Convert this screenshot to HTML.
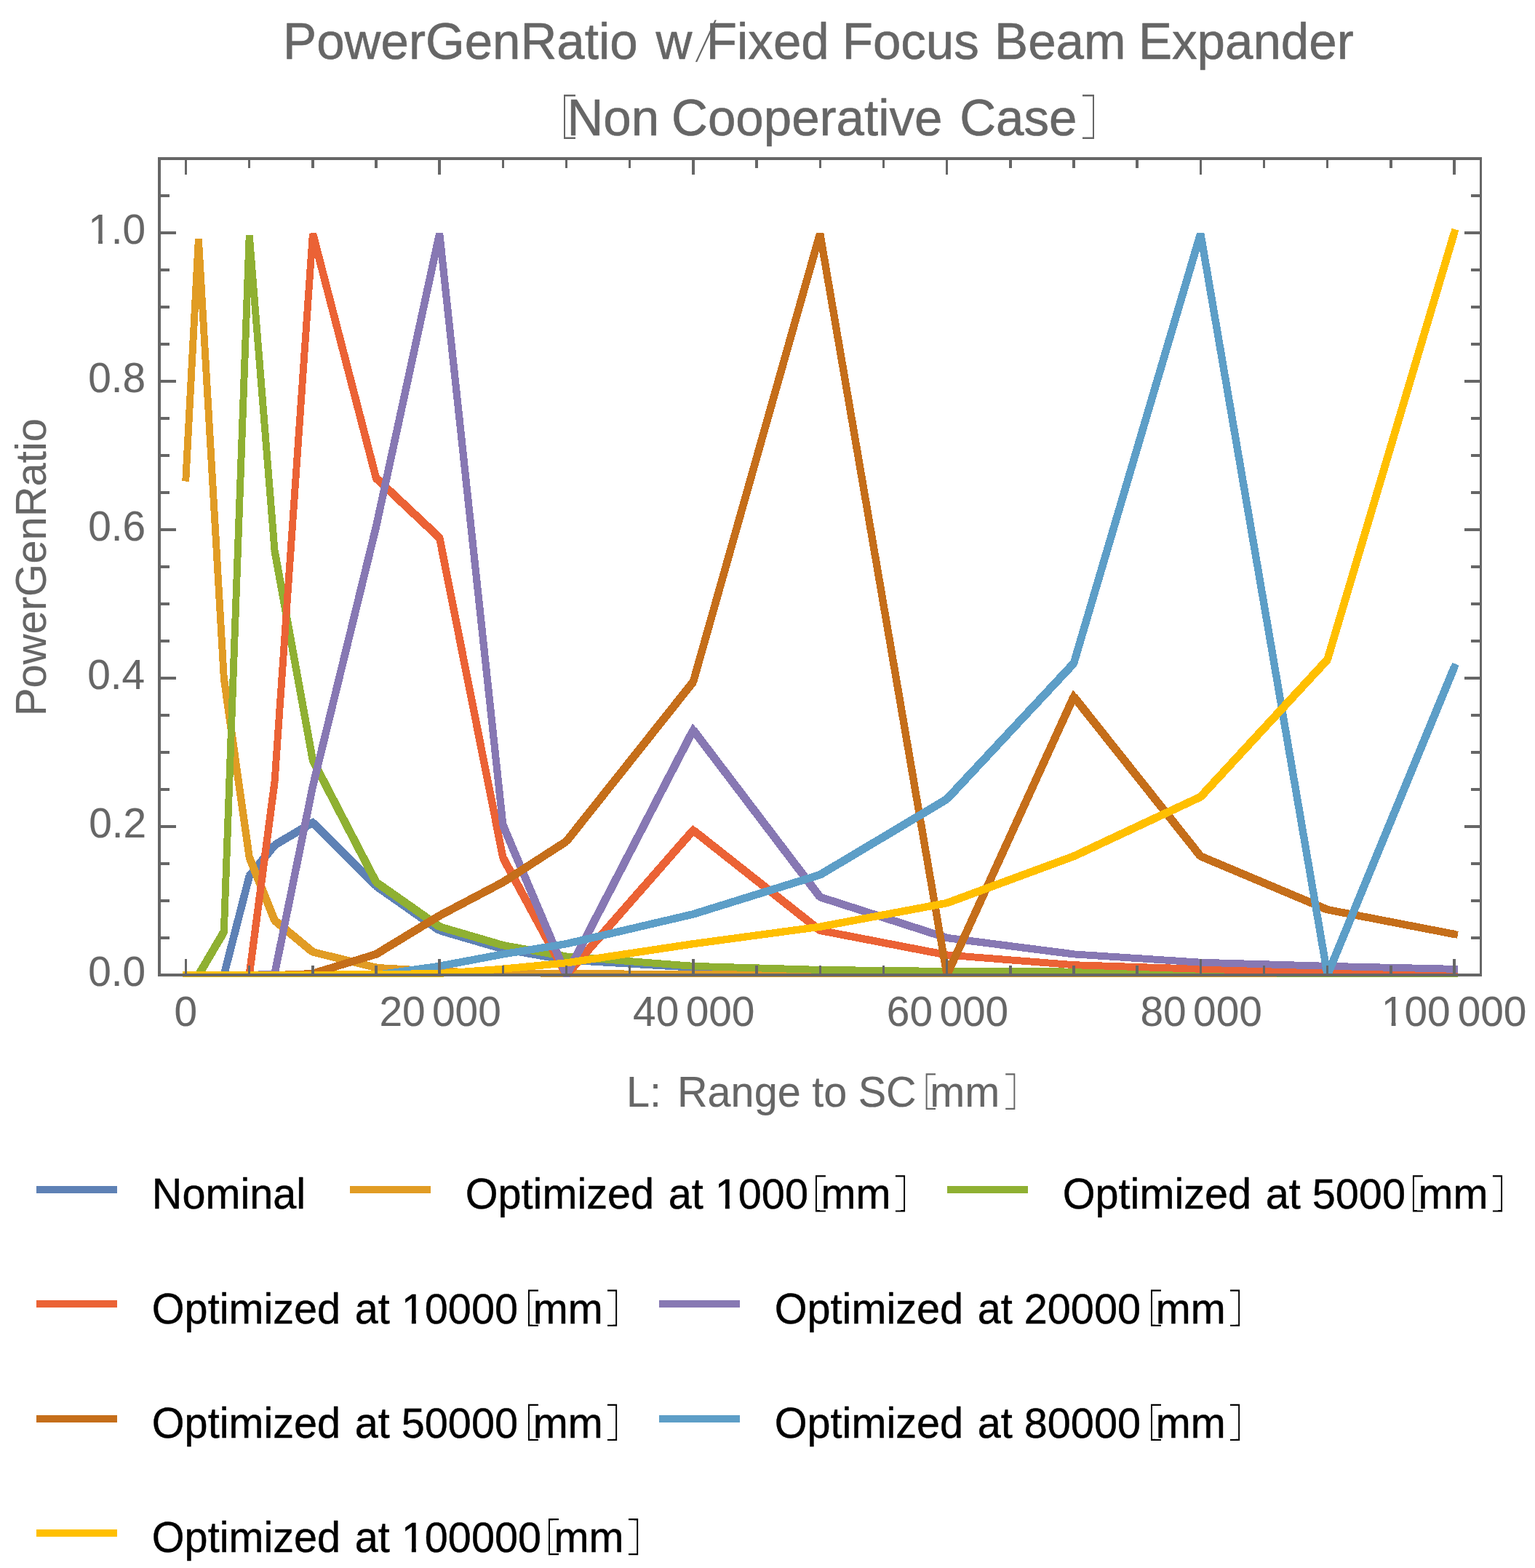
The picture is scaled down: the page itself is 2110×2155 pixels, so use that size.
<!DOCTYPE html>
<html lang="en"><head><meta charset="utf-8"><title>PowerGenRatio w/Fixed Focus Beam Expander</title>
<style>html,body{margin:0;padding:0;background:#fff;overflow:hidden}svg{display:block}text{font-family:"Liberation Sans",Arial,Helvetica,sans-serif;white-space:pre;stroke-linejoin:round}</style></head><body>
<svg width="2110" height="2155" viewBox="0 0 2110 2155" role="img" aria-label="PowerGenRatio w/Fixed Focus Beam Expander [Non Cooperative Case]">
<rect width="2110" height="2155" fill="#fff"/>
<defs><clipPath id="pc"><rect x="216" y="215" width="1822" height="1128"/></clipPath><clipPath id="c1"><rect x="1272.60" y="1475.20" width="2.00" height="49.80"/><rect x="1272.60" y="1475.20" width="13.40" height="2.30"/><rect x="1272.60" y="1522.70" width="13.40" height="2.30"/></clipPath><clipPath id="c2"><rect x="1393.40" y="1475.20" width="2.00" height="49.80"/><rect x="1382.20" y="1475.20" width="13.20" height="2.30"/><rect x="1382.20" y="1522.70" width="13.20" height="2.30"/></clipPath><clipPath id="c3"><polygon points="955.80,85.20 958.20,85.20 984.90,27.40 982.50,27.40"/></clipPath><clipPath id="c4"><rect x="775.00" y="130.00" width="2.00" height="61.00"/><rect x="775.00" y="130.00" width="16.00" height="2.60"/><rect x="775.00" y="188.40" width="16.00" height="2.60"/></clipPath><clipPath id="c5"><rect x="1502.00" y="130.00" width="2.00" height="61.00"/><rect x="1488.00" y="130.00" width="16.00" height="2.60"/><rect x="1488.00" y="188.40" width="16.00" height="2.60"/></clipPath><clipPath id="c6"><rect x="1120.92" y="1615.20" width="2.00" height="50.20"/><rect x="1120.92" y="1615.20" width="14.00" height="2.30"/><rect x="1120.92" y="1663.10" width="14.00" height="2.30"/></clipPath><clipPath id="c7"><rect x="1242.12" y="1615.20" width="2.00" height="50.20"/><rect x="1230.92" y="1615.20" width="13.20" height="2.30"/><rect x="1230.92" y="1663.10" width="13.20" height="2.30"/></clipPath><clipPath id="c8"><rect x="1941.92" y="1615.20" width="2.00" height="50.20"/><rect x="1941.92" y="1615.20" width="14.00" height="2.30"/><rect x="1941.92" y="1663.10" width="14.00" height="2.30"/></clipPath><clipPath id="c9"><rect x="2063.12" y="1615.20" width="2.00" height="50.20"/><rect x="2051.93" y="1615.20" width="13.20" height="2.30"/><rect x="2051.93" y="1663.10" width="13.20" height="2.30"/></clipPath><clipPath id="c10"><rect x="725.96" y="1772.50" width="2.00" height="50.20"/><rect x="725.96" y="1772.50" width="14.00" height="2.30"/><rect x="725.96" y="1820.40" width="14.00" height="2.30"/></clipPath><clipPath id="c11"><rect x="846.16" y="1772.50" width="2.00" height="50.20"/><rect x="834.96" y="1772.50" width="13.20" height="2.30"/><rect x="834.96" y="1820.40" width="13.20" height="2.30"/></clipPath><clipPath id="c12"><rect x="1581.96" y="1772.50" width="2.00" height="50.20"/><rect x="1581.96" y="1772.50" width="14.00" height="2.30"/><rect x="1581.96" y="1820.40" width="14.00" height="2.30"/></clipPath><clipPath id="c13"><rect x="1702.16" y="1772.50" width="2.00" height="50.20"/><rect x="1690.96" y="1772.50" width="13.20" height="2.30"/><rect x="1690.96" y="1820.40" width="13.20" height="2.30"/></clipPath><clipPath id="c14"><rect x="725.96" y="1929.80" width="2.00" height="50.20"/><rect x="725.96" y="1929.80" width="14.00" height="2.30"/><rect x="725.96" y="1977.70" width="14.00" height="2.30"/></clipPath><clipPath id="c15"><rect x="846.16" y="1929.80" width="2.00" height="50.20"/><rect x="834.96" y="1929.80" width="13.20" height="2.30"/><rect x="834.96" y="1977.70" width="13.20" height="2.30"/></clipPath><clipPath id="c16"><rect x="1581.96" y="1929.80" width="2.00" height="50.20"/><rect x="1581.96" y="1929.80" width="14.00" height="2.30"/><rect x="1581.96" y="1977.70" width="14.00" height="2.30"/></clipPath><clipPath id="c17"><rect x="1702.16" y="1929.80" width="2.00" height="50.20"/><rect x="1690.96" y="1929.80" width="13.20" height="2.30"/><rect x="1690.96" y="1977.70" width="13.20" height="2.30"/></clipPath><clipPath id="c18"><rect x="753.99" y="2087.10" width="2.00" height="50.20"/><rect x="753.99" y="2087.10" width="14.00" height="2.30"/><rect x="753.99" y="2135.00" width="14.00" height="2.30"/></clipPath><clipPath id="c19"><rect x="875.19" y="2087.10" width="2.00" height="50.20"/><rect x="863.99" y="2087.10" width="13.20" height="2.30"/><rect x="863.99" y="2135.00" width="13.20" height="2.30"/></clipPath></defs>
<g fill="none" stroke-width="9.9" stroke-linecap="square" stroke-linejoin="miter" stroke-miterlimit="3.25" shape-rendering="crispEdges" clip-path="url(#pc)">
<g stroke="#5E81B5"><polyline points="255.5,1340.0 272.9,1340.0 307.8,1340.0 342.7,1204.3 377.5,1161.5 429.9,1130.4 517.0,1217.6 604.2,1278.8 691.4,1304.3 778.5,1319.6 952.9,1329.8 1127.2,1334.9 1301.6,1336.9 1476.0,1338.0 1650.3,1339.0 1824.7,1339.0 1999.0,1339.0"/>
<g stroke-linecap="butt"><line x1="307.8" y1="1340.0" x2="342.7" y2="1204.3" stroke-width="10.58"/><line x1="342.7" y1="1204.3" x2="377.5" y2="1161.5" stroke-width="11.27"/><line x1="377.5" y1="1161.5" x2="429.9" y2="1130.4" stroke-width="11.13"/><line x1="429.9" y1="1130.4" x2="517.0" y2="1217.6" stroke-width="11.30"/><line x1="517.0" y1="1217.6" x2="604.2" y2="1278.8" stroke-width="11.22"/><line x1="604.2" y1="1278.8" x2="691.4" y2="1304.3" stroke-width="10.65"/><line x1="691.4" y1="1304.3" x2="778.5" y2="1319.6" stroke-width="10.38"/></g>
</g>
<g stroke="#E19C24"><polyline points="255.5,656.6 272.9,328.2 307.8,932.0 342.7,1178.2 377.5,1264.9 429.9,1308.4 517.0,1329.8 604.2,1334.9 691.4,1336.9 778.5,1338.0 952.9,1339.0 1127.2,1339.0 1301.6,1340.0 1476.0,1340.0 1650.3,1340.0 1824.7,1340.0 1999.0,1340.0"/>
<g stroke-linecap="butt"><line x1="307.8" y1="932.0" x2="342.7" y2="1178.2" stroke-width="10.29"/><line x1="342.7" y1="1178.2" x2="377.5" y2="1264.9" stroke-width="10.87"/><line x1="377.5" y1="1264.9" x2="429.9" y2="1308.4" stroke-width="11.28"/><line x1="429.9" y1="1308.4" x2="517.0" y2="1329.8" stroke-width="10.55"/></g>
</g>
<g stroke="#8FB032"><polyline points="255.5,1340.0 272.9,1340.0 307.8,1280.8 342.7,322.9 377.5,756.6 429.9,1044.7 517.0,1212.5 604.2,1273.7 691.4,1299.2 778.5,1314.5 952.9,1327.8 1127.2,1332.9 1301.6,1334.9 1476.0,1335.5 1650.3,1336.9 1824.7,1338.0 1999.0,1338.0"/>
<g stroke-linecap="butt"><line x1="272.9" y1="1340.0" x2="307.8" y2="1280.8" stroke-width="11.12"/><line x1="377.5" y1="756.6" x2="429.9" y2="1044.7" stroke-width="10.39"/><line x1="429.9" y1="1044.7" x2="517.0" y2="1212.5" stroke-width="11.05"/><line x1="517.0" y1="1212.5" x2="604.2" y2="1273.7" stroke-width="11.22"/><line x1="604.2" y1="1273.7" x2="691.4" y2="1299.2" stroke-width="10.65"/><line x1="691.4" y1="1299.2" x2="778.5" y2="1314.5" stroke-width="10.38"/></g>
</g>
<g stroke="#EB6235"><polyline points="255.5,1340.0 272.9,1340.0 307.8,1340.0 342.7,1340.0 377.5,1074.8 429.9,321.0 517.0,657.1 604.2,739.2 691.4,1178.8 778.5,1340.0 952.9,1141.1 1127.2,1278.8 1301.6,1312.5 1476.0,1326.2 1650.3,1331.8 1824.7,1335.9 1999.0,1336.9"/>
<g stroke-linecap="butt"><line x1="342.7" y1="1340.0" x2="377.5" y2="1074.8" stroke-width="10.26"/><line x1="429.9" y1="321.0" x2="517.0" y2="657.1" stroke-width="10.58"/><line x1="517.0" y1="657.1" x2="604.2" y2="739.2" stroke-width="11.30"/><line x1="604.2" y1="739.2" x2="691.4" y2="1178.8" stroke-width="10.43"/><line x1="691.4" y1="1178.8" x2="778.5" y2="1340.0" stroke-width="11.07"/><line x1="778.5" y1="1340.0" x2="952.9" y2="1141.1" stroke-width="11.29"/><line x1="952.9" y1="1141.1" x2="1127.2" y2="1278.8" stroke-width="11.26"/><line x1="1127.2" y1="1278.8" x2="1301.6" y2="1312.5" stroke-width="10.42"/></g>
</g>
<g stroke="#8778B3"><polyline points="255.5,1340.0 272.9,1340.0 307.8,1340.0 342.7,1340.0 377.5,1338.5 429.9,1080.9 517.0,723.9 604.2,321.0 691.4,1134.0 778.5,1340.0 952.9,1003.4 1127.2,1232.9 1301.6,1289.0 1476.0,1311.4 1650.3,1322.7 1824.7,1327.8 1999.0,1331.8"/>
<g stroke-linecap="butt"><line x1="377.5" y1="1338.5" x2="429.9" y2="1080.9" stroke-width="10.45"/><line x1="429.9" y1="1080.9" x2="517.0" y2="723.9" stroke-width="10.55"/><line x1="517.0" y1="723.9" x2="604.2" y2="321.0" stroke-width="10.48"/><line x1="604.2" y1="321.0" x2="691.4" y2="1134.0" stroke-width="10.20"/><line x1="691.4" y1="1134.0" x2="778.5" y2="1340.0" stroke-width="10.90"/><line x1="778.5" y1="1340.0" x2="952.9" y2="1003.4" stroke-width="11.04"/><line x1="952.9" y1="1003.4" x2="1127.2" y2="1232.9" stroke-width="11.25"/><line x1="1127.2" y1="1232.9" x2="1301.6" y2="1289.0" stroke-width="10.72"/><line x1="1301.6" y1="1289.0" x2="1476.0" y2="1311.4" stroke-width="10.25"/></g>
</g>
<g stroke="#C56E1A"><polyline points="255.5,1340.0 272.9,1340.0 307.8,1340.0 342.7,1340.0 377.5,1340.0 429.9,1338.0 517.0,1311.4 604.2,1258.4 691.4,1212.5 778.5,1156.4 952.9,937.1 1127.2,321.0 1301.6,1340.0 1476.0,957.5 1650.3,1176.8 1824.7,1250.2 1999.0,1283.9"/>
<g stroke-linecap="butt"><line x1="429.9" y1="1338.0" x2="517.0" y2="1311.4" stroke-width="10.68"/><line x1="517.0" y1="1311.4" x2="604.2" y2="1258.4" stroke-width="11.14"/><line x1="604.2" y1="1258.4" x2="691.4" y2="1212.5" stroke-width="11.05"/><line x1="691.4" y1="1212.5" x2="778.5" y2="1156.4" stroke-width="11.17"/><line x1="778.5" y1="1156.4" x2="952.9" y2="937.1" stroke-width="11.26"/><line x1="952.9" y1="937.1" x2="1127.2" y2="321.0" stroke-width="10.63"/><line x1="1127.2" y1="321.0" x2="1301.6" y2="1340.0" stroke-width="10.37"/><line x1="1301.6" y1="1340.0" x2="1476.0" y2="957.5" stroke-width="10.96"/><line x1="1476.0" y1="957.5" x2="1650.3" y2="1176.8" stroke-width="11.26"/><line x1="1650.3" y1="1176.8" x2="1824.7" y2="1250.2" stroke-width="10.90"/><line x1="1824.7" y1="1250.2" x2="1999.0" y2="1283.9" stroke-width="10.42"/></g>
</g>
<g stroke="#5D9EC7"><polyline points="255.5,1340.0 272.9,1340.0 307.8,1340.0 342.7,1340.0 377.5,1340.0 429.9,1340.0 517.0,1340.0 604.2,1327.8 691.4,1311.4 778.5,1297.2 952.9,1256.4 1127.2,1202.3 1301.6,1098.3 1476.0,911.6 1650.3,321.0 1824.7,1340.0 1999.0,917.1"/>
<g stroke-linecap="butt"><line x1="517.0" y1="1340.0" x2="604.2" y2="1327.8" stroke-width="10.29"/><line x1="604.2" y1="1327.8" x2="691.4" y2="1311.4" stroke-width="10.41"/><line x1="691.4" y1="1311.4" x2="778.5" y2="1297.2" stroke-width="10.35"/><line x1="778.5" y1="1297.2" x2="952.9" y2="1256.4" stroke-width="10.52"/><line x1="952.9" y1="1256.4" x2="1127.2" y2="1202.3" stroke-width="10.69"/><line x1="1127.2" y1="1202.3" x2="1301.6" y2="1098.3" stroke-width="11.13"/><line x1="1301.6" y1="1098.3" x2="1476.0" y2="911.6" stroke-width="11.30"/><line x1="1476.0" y1="911.6" x2="1650.3" y2="321.0" stroke-width="10.66"/><line x1="1650.3" y1="321.0" x2="1824.7" y2="1340.0" stroke-width="10.37"/><line x1="1824.7" y1="1340.0" x2="1999.0" y2="917.1" stroke-width="10.89"/></g>
</g>
<g stroke="#FFBF00"><polyline points="255.5,1340.0 272.9,1340.0 307.8,1340.0 342.7,1340.0 377.5,1340.0 429.9,1339.7 517.0,1339.0 604.2,1338.0 691.4,1331.6 778.5,1323.4 952.9,1297.2 1127.2,1273.7 1301.6,1241.1 1476.0,1176.8 1650.3,1095.2 1824.7,906.5 1999.0,320.0"/>
<g stroke-linecap="butt"><line x1="691.4" y1="1331.6" x2="778.5" y2="1323.4" stroke-width="10.16"/><line x1="778.5" y1="1323.4" x2="952.9" y2="1297.2" stroke-width="10.31"/><line x1="952.9" y1="1297.2" x2="1127.2" y2="1273.7" stroke-width="10.27"/><line x1="1127.2" y1="1273.7" x2="1301.6" y2="1241.1" stroke-width="10.41"/><line x1="1301.6" y1="1241.1" x2="1476.0" y2="1176.8" stroke-width="10.81"/><line x1="1476.0" y1="1176.8" x2="1650.3" y2="1095.2" stroke-width="10.97"/><line x1="1650.3" y1="1095.2" x2="1824.7" y2="906.5" stroke-width="11.30"/><line x1="1824.7" y1="906.5" x2="1999.0" y2="320.0" stroke-width="10.66"/></g>
</g>
</g>
<g fill="#666666" shape-rendering="crispEdges">
<rect x="217" y="216" width="1820" height="4"/>
<rect x="217" y="1338" width="1820" height="4"/>
<rect x="217" y="216" width="4" height="1126"/>
<rect x="2034" y="216" width="3" height="1126"/>
<rect x="253.75" y="1318" width="3.5" height="20"/>
<rect x="253.75" y="220" width="3.5" height="20"/>
<rect x="340.93" y="1327" width="3.5" height="11"/>
<rect x="340.93" y="220" width="3.5" height="11"/>
<rect x="428.10" y="1327" width="3.5" height="11"/>
<rect x="428.10" y="220" width="3.5" height="11"/>
<rect x="515.27" y="1327" width="3.5" height="11"/>
<rect x="515.27" y="220" width="3.5" height="11"/>
<rect x="602.45" y="1318" width="3.5" height="20"/>
<rect x="602.45" y="220" width="3.5" height="20"/>
<rect x="689.62" y="1327" width="3.5" height="11"/>
<rect x="689.62" y="220" width="3.5" height="11"/>
<rect x="776.80" y="1327" width="3.5" height="11"/>
<rect x="776.80" y="220" width="3.5" height="11"/>
<rect x="863.98" y="1327" width="3.5" height="11"/>
<rect x="863.98" y="220" width="3.5" height="11"/>
<rect x="951.15" y="1318" width="3.5" height="20"/>
<rect x="951.15" y="220" width="3.5" height="20"/>
<rect x="1038.33" y="1327" width="3.5" height="11"/>
<rect x="1038.33" y="220" width="3.5" height="11"/>
<rect x="1125.50" y="1327" width="3.5" height="11"/>
<rect x="1125.50" y="220" width="3.5" height="11"/>
<rect x="1212.67" y="1327" width="3.5" height="11"/>
<rect x="1212.67" y="220" width="3.5" height="11"/>
<rect x="1299.85" y="1318" width="3.5" height="20"/>
<rect x="1299.85" y="220" width="3.5" height="20"/>
<rect x="1387.03" y="1327" width="3.5" height="11"/>
<rect x="1387.03" y="220" width="3.5" height="11"/>
<rect x="1474.20" y="1327" width="3.5" height="11"/>
<rect x="1474.20" y="220" width="3.5" height="11"/>
<rect x="1561.38" y="1327" width="3.5" height="11"/>
<rect x="1561.38" y="220" width="3.5" height="11"/>
<rect x="1648.55" y="1318" width="3.5" height="20"/>
<rect x="1648.55" y="220" width="3.5" height="20"/>
<rect x="1735.72" y="1327" width="3.5" height="11"/>
<rect x="1735.72" y="220" width="3.5" height="11"/>
<rect x="1822.90" y="1327" width="3.5" height="11"/>
<rect x="1822.90" y="220" width="3.5" height="11"/>
<rect x="1910.08" y="1327" width="3.5" height="11"/>
<rect x="1910.08" y="220" width="3.5" height="11"/>
<rect x="1997.25" y="1318" width="3.5" height="20"/>
<rect x="1997.25" y="220" width="3.5" height="20"/>
<rect x="221" y="1287.00" width="12" height="4"/>
<rect x="2022" y="1287.00" width="12" height="4"/>
<rect x="221" y="1236.00" width="12" height="4"/>
<rect x="2022" y="1236.00" width="12" height="4"/>
<rect x="221" y="1185.00" width="12" height="4"/>
<rect x="2022" y="1185.00" width="12" height="4"/>
<rect x="221" y="1134.00" width="21" height="4"/>
<rect x="2013" y="1134.00" width="21" height="4"/>
<rect x="221" y="1083.00" width="12" height="4"/>
<rect x="2022" y="1083.00" width="12" height="4"/>
<rect x="221" y="1032.00" width="12" height="4"/>
<rect x="2022" y="1032.00" width="12" height="4"/>
<rect x="221" y="981.00" width="12" height="4"/>
<rect x="2022" y="981.00" width="12" height="4"/>
<rect x="221" y="930.00" width="21" height="4"/>
<rect x="2013" y="930.00" width="21" height="4"/>
<rect x="221" y="879.00" width="12" height="4"/>
<rect x="2022" y="879.00" width="12" height="4"/>
<rect x="221" y="828.00" width="12" height="4"/>
<rect x="2022" y="828.00" width="12" height="4"/>
<rect x="221" y="777.00" width="12" height="4"/>
<rect x="2022" y="777.00" width="12" height="4"/>
<rect x="221" y="726.00" width="21" height="4"/>
<rect x="2013" y="726.00" width="21" height="4"/>
<rect x="221" y="675.00" width="12" height="4"/>
<rect x="2022" y="675.00" width="12" height="4"/>
<rect x="221" y="624.00" width="12" height="4"/>
<rect x="2022" y="624.00" width="12" height="4"/>
<rect x="221" y="573.00" width="12" height="4"/>
<rect x="2022" y="573.00" width="12" height="4"/>
<rect x="221" y="522.00" width="21" height="4"/>
<rect x="2013" y="522.00" width="21" height="4"/>
<rect x="221" y="471.00" width="12" height="4"/>
<rect x="2022" y="471.00" width="12" height="4"/>
<rect x="221" y="420.00" width="12" height="4"/>
<rect x="2022" y="420.00" width="12" height="4"/>
<rect x="221" y="369.00" width="12" height="4"/>
<rect x="2022" y="369.00" width="12" height="4"/>
<rect x="221" y="318.00" width="21" height="4"/>
<rect x="2013" y="318.00" width="21" height="4"/>
<rect x="221" y="267.00" width="12" height="4"/>
<rect x="2022" y="267.00" width="12" height="4"/>
</g>
<g fill="#666666" stroke="#666666" stroke-width="0.15" font-size="57.6">
<text><tspan x="121.20" y="1354.70" font-size="56.8">0.0</tspan></text>
<text><tspan x="122.20" y="1150.70" font-size="56.8">0.2</tspan></text>
<text><tspan x="120.20" y="946.70" font-size="56.8">0.4</tspan></text>
<text><tspan x="121.20" y="742.70" font-size="56.8">0.6</tspan></text>
<text><tspan x="121.20" y="538.70" font-size="56.8">0.8</tspan></text>
<text><tspan x="121.20" y="334.70" font-size="56.8">1.0</tspan></text>
<rect x="124.03" y="328.06" width="11.01" height="8.14" fill="#fff" stroke="none"/><rect x="140.95" y="328.06" width="10.56" height="8.14" fill="#fff" stroke="none"/>
<g font-size="56.8">
<text><tspan x="239.50" y="1409.80">0</tspan></text>
<text><tspan x="521.40" y="1409.8">20&#8201;</tspan><tspan x="594.00" y="1409.80">000</tspan></text>
<text><tspan x="870.10" y="1409.8">40&#8201;</tspan><tspan x="942.70" y="1409.80">000</tspan></text>
<text><tspan x="1218.80" y="1409.8">60&#8201;</tspan><tspan x="1291.40" y="1409.80">000</tspan></text>
<text><tspan x="1567.50" y="1409.8">80&#8201;</tspan><tspan x="1640.10" y="1409.80">000</tspan></text>
<text><tspan x="1898.80" y="1409.80">100&#8201;</tspan><tspan x="2003.70" y="1409.80">000</tspan></text>
<rect x="1901.63" y="1403.16" width="11.01" height="8.14" fill="#fff" stroke="none"/><rect x="1918.55" y="1403.16" width="10.56" height="8.14" fill="#fff" stroke="none"/>
</g>
<text transform="matrix(1 0 0 1.03 0 -45.627)"><tspan x="861.00" y="1520.90">L: </tspan><tspan x="931.00" y="1520.90">Range </tspan><tspan x="1116.20" y="1520.90">to </tspan><tspan x="1179.70" y="1520.90">SC</tspan></text>
<g clip-path="url(#c1)"><text transform="translate(1266.76,1514.19) scale(1.3757,1)" font-size="54.50" fill="#666666" stroke="none">[</text></g>
<text transform="matrix(1 0 0 1.03 0 -45.627)"><tspan x="1278.30" y="1520.90">mm</tspan></text>
<g clip-path="url(#c2)"><text transform="translate(1380.62,1514.19) scale(1.3573,1)" font-size="54.50" fill="#666666" stroke="none">]</text></g>
</g>
<text transform="translate(62.9,984.30) rotate(-90) scale(1,1.02)" font-size="58.0" fill="#666666" stroke="#666666" stroke-width="0.15">PowerGenRatio</text>
<g fill="#666666" stroke="#666666" stroke-width="0.6" font-size="69.1">
<text transform="matrix(1 0 0 1.03 0 -2.424)"><tspan x="389.10" y="80.80">PowerGenRatio </tspan><tspan x="901.40" y="80.80">w</tspan></text>
<g clip-path="url(#c3)"><text transform="translate(951.49,84.92) scale(1.6698,1)" font-size="80.07" fill="#666666" stroke="none">/</text></g>
<text transform="matrix(1 0 0 1.03 0 -2.424)"><tspan x="970.80" y="80.80">Fixed </tspan><tspan x="1157.70" y="80.80">Focus </tspan><tspan x="1367.10" y="80.80">Beam </tspan><tspan x="1565.00" y="80.80">Expander</tspan></text>
<g clip-path="url(#c4)"><text transform="translate(768.22,177.70) scale(1.3239,1)" font-size="66.51" fill="#666666" stroke="none">[</text></g>
<text transform="matrix(1 0 0 1.03 0 -5.574)"><tspan x="779.40" y="185.80">Non </tspan><tspan x="923.00" y="185.80">Cooperative </tspan><tspan x="1319.20" y="185.80">Case</tspan></text>
<g clip-path="url(#c5)"><text transform="translate(1486.31,177.70) scale(1.3239,1)" font-size="66.51" fill="#666666" stroke="none">]</text></g>
</g>
<g font-size="57.6" fill="#000" stroke="#000" stroke-width="0.45">
<rect x="50" y="1630.0" width="111" height="10" fill="#5E81B5" stroke="none" shape-rendering="crispEdges"/>
<text transform="matrix(1 0 0 1.03 0 -49.842)"><tspan x="208.80" y="1661.40">Nominal</tspan></text>
<rect x="481" y="1630.0" width="111" height="10" fill="#E19C24" stroke="none" shape-rendering="crispEdges"/>
<text transform="matrix(1 0 0 1.03 0 -49.842)"><tspan x="639.80" y="1661.40">Optimized </tspan><tspan x="918.80" y="1661.40">at </tspan></text>
<text><tspan x="982.80" y="1661.40">1000</tspan></text>
<rect x="985.69" y="1654.70" width="11.15" height="8.20" fill="#fff" stroke="none"/><rect x="1002.83" y="1654.70" width="10.70" height="8.20" fill="#fff" stroke="none"/>
<g clip-path="url(#c6)"><text transform="translate(1114.86,1654.50) scale(1.4200,1)" font-size="54.93" fill="#000" stroke="none">[</text></g>
<text transform="matrix(1 0 0 1.03 0 -49.842)"><tspan x="1128.42" y="1661.40">mm</tspan></text>
<g clip-path="url(#c7)"><text transform="translate(1229.35,1654.50) scale(1.3467,1)" font-size="54.93" fill="#000" stroke="none">]</text></g>
<rect x="1302" y="1630.0" width="111" height="10" fill="#8FB032" stroke="none" shape-rendering="crispEdges"/>
<text transform="matrix(1 0 0 1.03 0 -49.842)"><tspan x="1460.80" y="1661.40">Optimized </tspan><tspan x="1739.80" y="1661.40">at </tspan></text>
<text><tspan x="1803.80" y="1661.40">5000</tspan></text>
<g clip-path="url(#c8)"><text transform="translate(1935.86,1654.50) scale(1.4200,1)" font-size="54.93" fill="#000" stroke="none">[</text></g>
<text transform="matrix(1 0 0 1.03 0 -49.842)"><tspan x="1949.42" y="1661.40">mm</tspan></text>
<g clip-path="url(#c9)"><text transform="translate(2050.35,1654.50) scale(1.3467,1)" font-size="54.93" fill="#000" stroke="none">]</text></g>
<rect x="50" y="1787.3" width="111" height="10" fill="#EB6235" stroke="none" shape-rendering="crispEdges"/>
<text transform="matrix(1 0 0 1.03 0 -54.561)"><tspan x="208.80" y="1818.70">Optimized </tspan><tspan x="487.80" y="1818.70">at </tspan></text>
<text><tspan x="551.80" y="1818.70">10000</tspan></text>
<rect x="554.69" y="1812.00" width="11.15" height="8.20" fill="#fff" stroke="none"/><rect x="571.83" y="1812.00" width="10.70" height="8.20" fill="#fff" stroke="none"/>
<g clip-path="url(#c10)"><text transform="translate(719.90,1811.80) scale(1.4200,1)" font-size="54.93" fill="#000" stroke="none">[</text></g>
<text transform="matrix(1 0 0 1.03 0 -54.561)"><tspan x="732.76" y="1818.70">mm</tspan></text>
<g clip-path="url(#c11)"><text transform="translate(833.38,1811.80) scale(1.3467,1)" font-size="54.93" fill="#000" stroke="none">]</text></g>
<rect x="906" y="1787.3" width="111" height="10" fill="#8778B3" stroke="none" shape-rendering="crispEdges"/>
<text transform="matrix(1 0 0 1.03 0 -54.561)"><tspan x="1064.80" y="1818.70">Optimized </tspan><tspan x="1343.80" y="1818.70">at </tspan></text>
<text><tspan x="1407.80" y="1818.70">20000</tspan></text>
<g clip-path="url(#c12)"><text transform="translate(1575.90,1811.80) scale(1.4200,1)" font-size="54.93" fill="#000" stroke="none">[</text></g>
<text transform="matrix(1 0 0 1.03 0 -54.561)"><tspan x="1588.76" y="1818.70">mm</tspan></text>
<g clip-path="url(#c13)"><text transform="translate(1689.38,1811.80) scale(1.3467,1)" font-size="54.93" fill="#000" stroke="none">]</text></g>
<rect x="50" y="1944.6" width="111" height="10" fill="#C56E1A" stroke="none" shape-rendering="crispEdges"/>
<text transform="matrix(1 0 0 1.03 0 -59.280)"><tspan x="208.80" y="1976.00">Optimized </tspan><tspan x="487.80" y="1976.00">at </tspan></text>
<text><tspan x="551.80" y="1976.00">50000</tspan></text>
<g clip-path="url(#c14)"><text transform="translate(719.90,1969.10) scale(1.4200,1)" font-size="54.93" fill="#000" stroke="none">[</text></g>
<text transform="matrix(1 0 0 1.03 0 -59.280)"><tspan x="732.76" y="1976.00">mm</tspan></text>
<g clip-path="url(#c15)"><text transform="translate(833.38,1969.10) scale(1.3467,1)" font-size="54.93" fill="#000" stroke="none">]</text></g>
<rect x="906" y="1944.6" width="111" height="10" fill="#5D9EC7" stroke="none" shape-rendering="crispEdges"/>
<text transform="matrix(1 0 0 1.03 0 -59.280)"><tspan x="1064.80" y="1976.00">Optimized </tspan><tspan x="1343.80" y="1976.00">at </tspan></text>
<text><tspan x="1407.80" y="1976.00">80000</tspan></text>
<g clip-path="url(#c16)"><text transform="translate(1575.90,1969.10) scale(1.4200,1)" font-size="54.93" fill="#000" stroke="none">[</text></g>
<text transform="matrix(1 0 0 1.03 0 -59.280)"><tspan x="1588.76" y="1976.00">mm</tspan></text>
<g clip-path="url(#c17)"><text transform="translate(1689.38,1969.10) scale(1.3467,1)" font-size="54.93" fill="#000" stroke="none">]</text></g>
<rect x="50" y="2101.9" width="111" height="10" fill="#FFBF00" stroke="none" shape-rendering="crispEdges"/>
<text transform="matrix(1 0 0 1.03 0 -63.999)"><tspan x="208.80" y="2133.30">Optimized </tspan><tspan x="487.80" y="2133.30">at </tspan></text>
<text><tspan x="551.80" y="2133.30">100000</tspan></text>
<rect x="554.69" y="2126.60" width="11.15" height="8.20" fill="#fff" stroke="none"/><rect x="571.83" y="2126.60" width="10.70" height="8.20" fill="#fff" stroke="none"/>
<g clip-path="url(#c18)"><text transform="translate(747.93,2126.40) scale(1.4200,1)" font-size="54.93" fill="#000" stroke="none">[</text></g>
<text transform="matrix(1 0 0 1.03 0 -63.999)"><tspan x="761.49" y="2133.30">mm</tspan></text>
<g clip-path="url(#c19)"><text transform="translate(862.41,2126.40) scale(1.3467,1)" font-size="54.93" fill="#000" stroke="none">]</text></g>
</g>
</svg></body></html>
